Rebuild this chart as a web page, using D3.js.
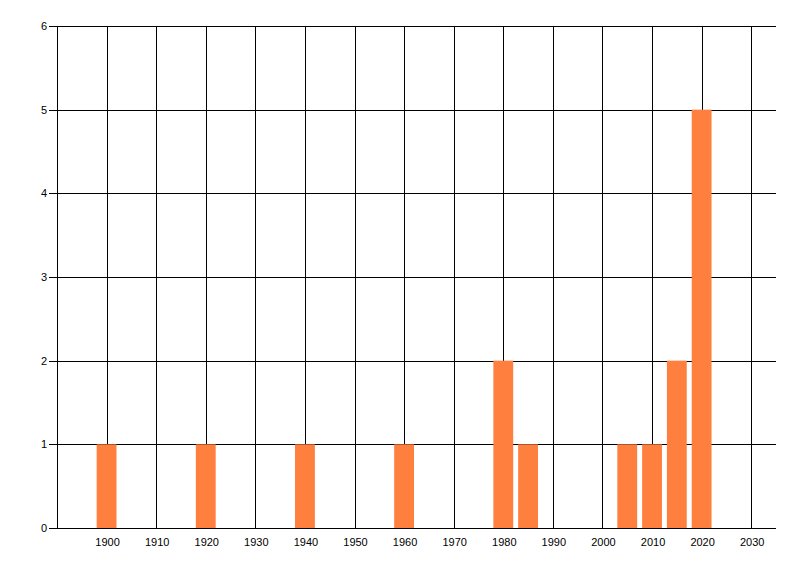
<!DOCTYPE html>
<html>
<head>
<meta charset="utf-8">
<script src="https://cdn.jsdelivr.net/npm/d3@7"></script>
<style>
  body { margin: 0; background: #fff; }
  text { font-family: "Liberation Sans", Arial, sans-serif; font-size: 11px; fill: #000; }
</style>
</head>
<body>
<svg id="chart" width="800" height="576"></svg>
<script>
// data
const years = [1900, 1920, 1940, 1960, 1980, 1985, 2005, 2010, 2015, 2020];
const counts = [1, 1, 1, 1, 2, 1, 1, 1, 2, 5];
const xTicks = [1900, 1910, 1920, 1930, 1940, 1950, 1960, 1970, 1980, 1990, 2000, 2010, 2020, 2030];
const yTicks = [0, 1, 2, 3, 4, 5, 6];

const svg = d3.select('#chart');
const margin = {top: 26, right: 24, bottom: 48, left: 57};
const width = +svg.attr('width');
const height = +svg.attr('height');
const innerWidth = width - margin.left - margin.right;
const innerHeight = height - margin.top - margin.bottom;

const g = svg.append('g')
  .attr('transform', `translate(${margin.left}, ${margin.top})`);

const xScale = d3.scaleLinear().domain([1890, 2035]).range([0, innerWidth]);
const yScale = d3.scaleLinear().domain([0, 6]).range([innerHeight, 0]);
const barYears = 4;

// grid lines
g.selectAll('.vgrid').data(xTicks).enter().append('line')
  .attr('class', 'vgrid')
  .attr('x1', d => Math.round(xScale(d)) + 0.5)
  .attr('x2', d => Math.round(xScale(d)) + 0.5)
  .attr('y1', 0)
  .attr('y2', innerHeight)
  .attr('stroke', '#000');

g.selectAll('.hgrid').data(yTicks).enter().append('line')
  .attr('class', 'hgrid')
  .attr('x1', -8)
  .attr('x2', innerWidth)
  .attr('y1', d => Math.round(yScale(d)) + 0.5)
  .attr('y2', d => Math.round(yScale(d)) + 0.5)
  .attr('stroke', '#000');

// bars
g.selectAll('rect').data(years).enter().append('rect')
  .attr('x', (d, i) => xScale(d - barYears / 2))
  .attr('width', xScale(1890 + barYears) - xScale(1890))
  .attr('y', (d, i) => yScale(counts[i]))
  .attr('height', (d, i) => innerHeight - yScale(counts[i]))
  .attr('fill', '#ff7f3f');

// left axis line
g.append('line')
  .attr('x1', 0.5).attr('x2', 0.5)
  .attr('y1', 0).attr('y2', innerHeight)
  .attr('stroke', '#000');

// tick labels
g.selectAll('.ylab').data(yTicks).enter().append('text')
  .attr('class', 'ylab')
  .attr('text-anchor', 'end')
  .attr('x', -10)
  .attr('y', d => yScale(d) + 4)
  .text(d => d);

g.selectAll('.xlab').data(xTicks).enter().append('text')
  .attr('class', 'xlab')
  .attr('text-anchor', 'middle')
  .attr('x', d => xScale(d) + 1)
  .attr('y', innerHeight + 18)
  .text(d => d);
</script>
</body>
</html>
